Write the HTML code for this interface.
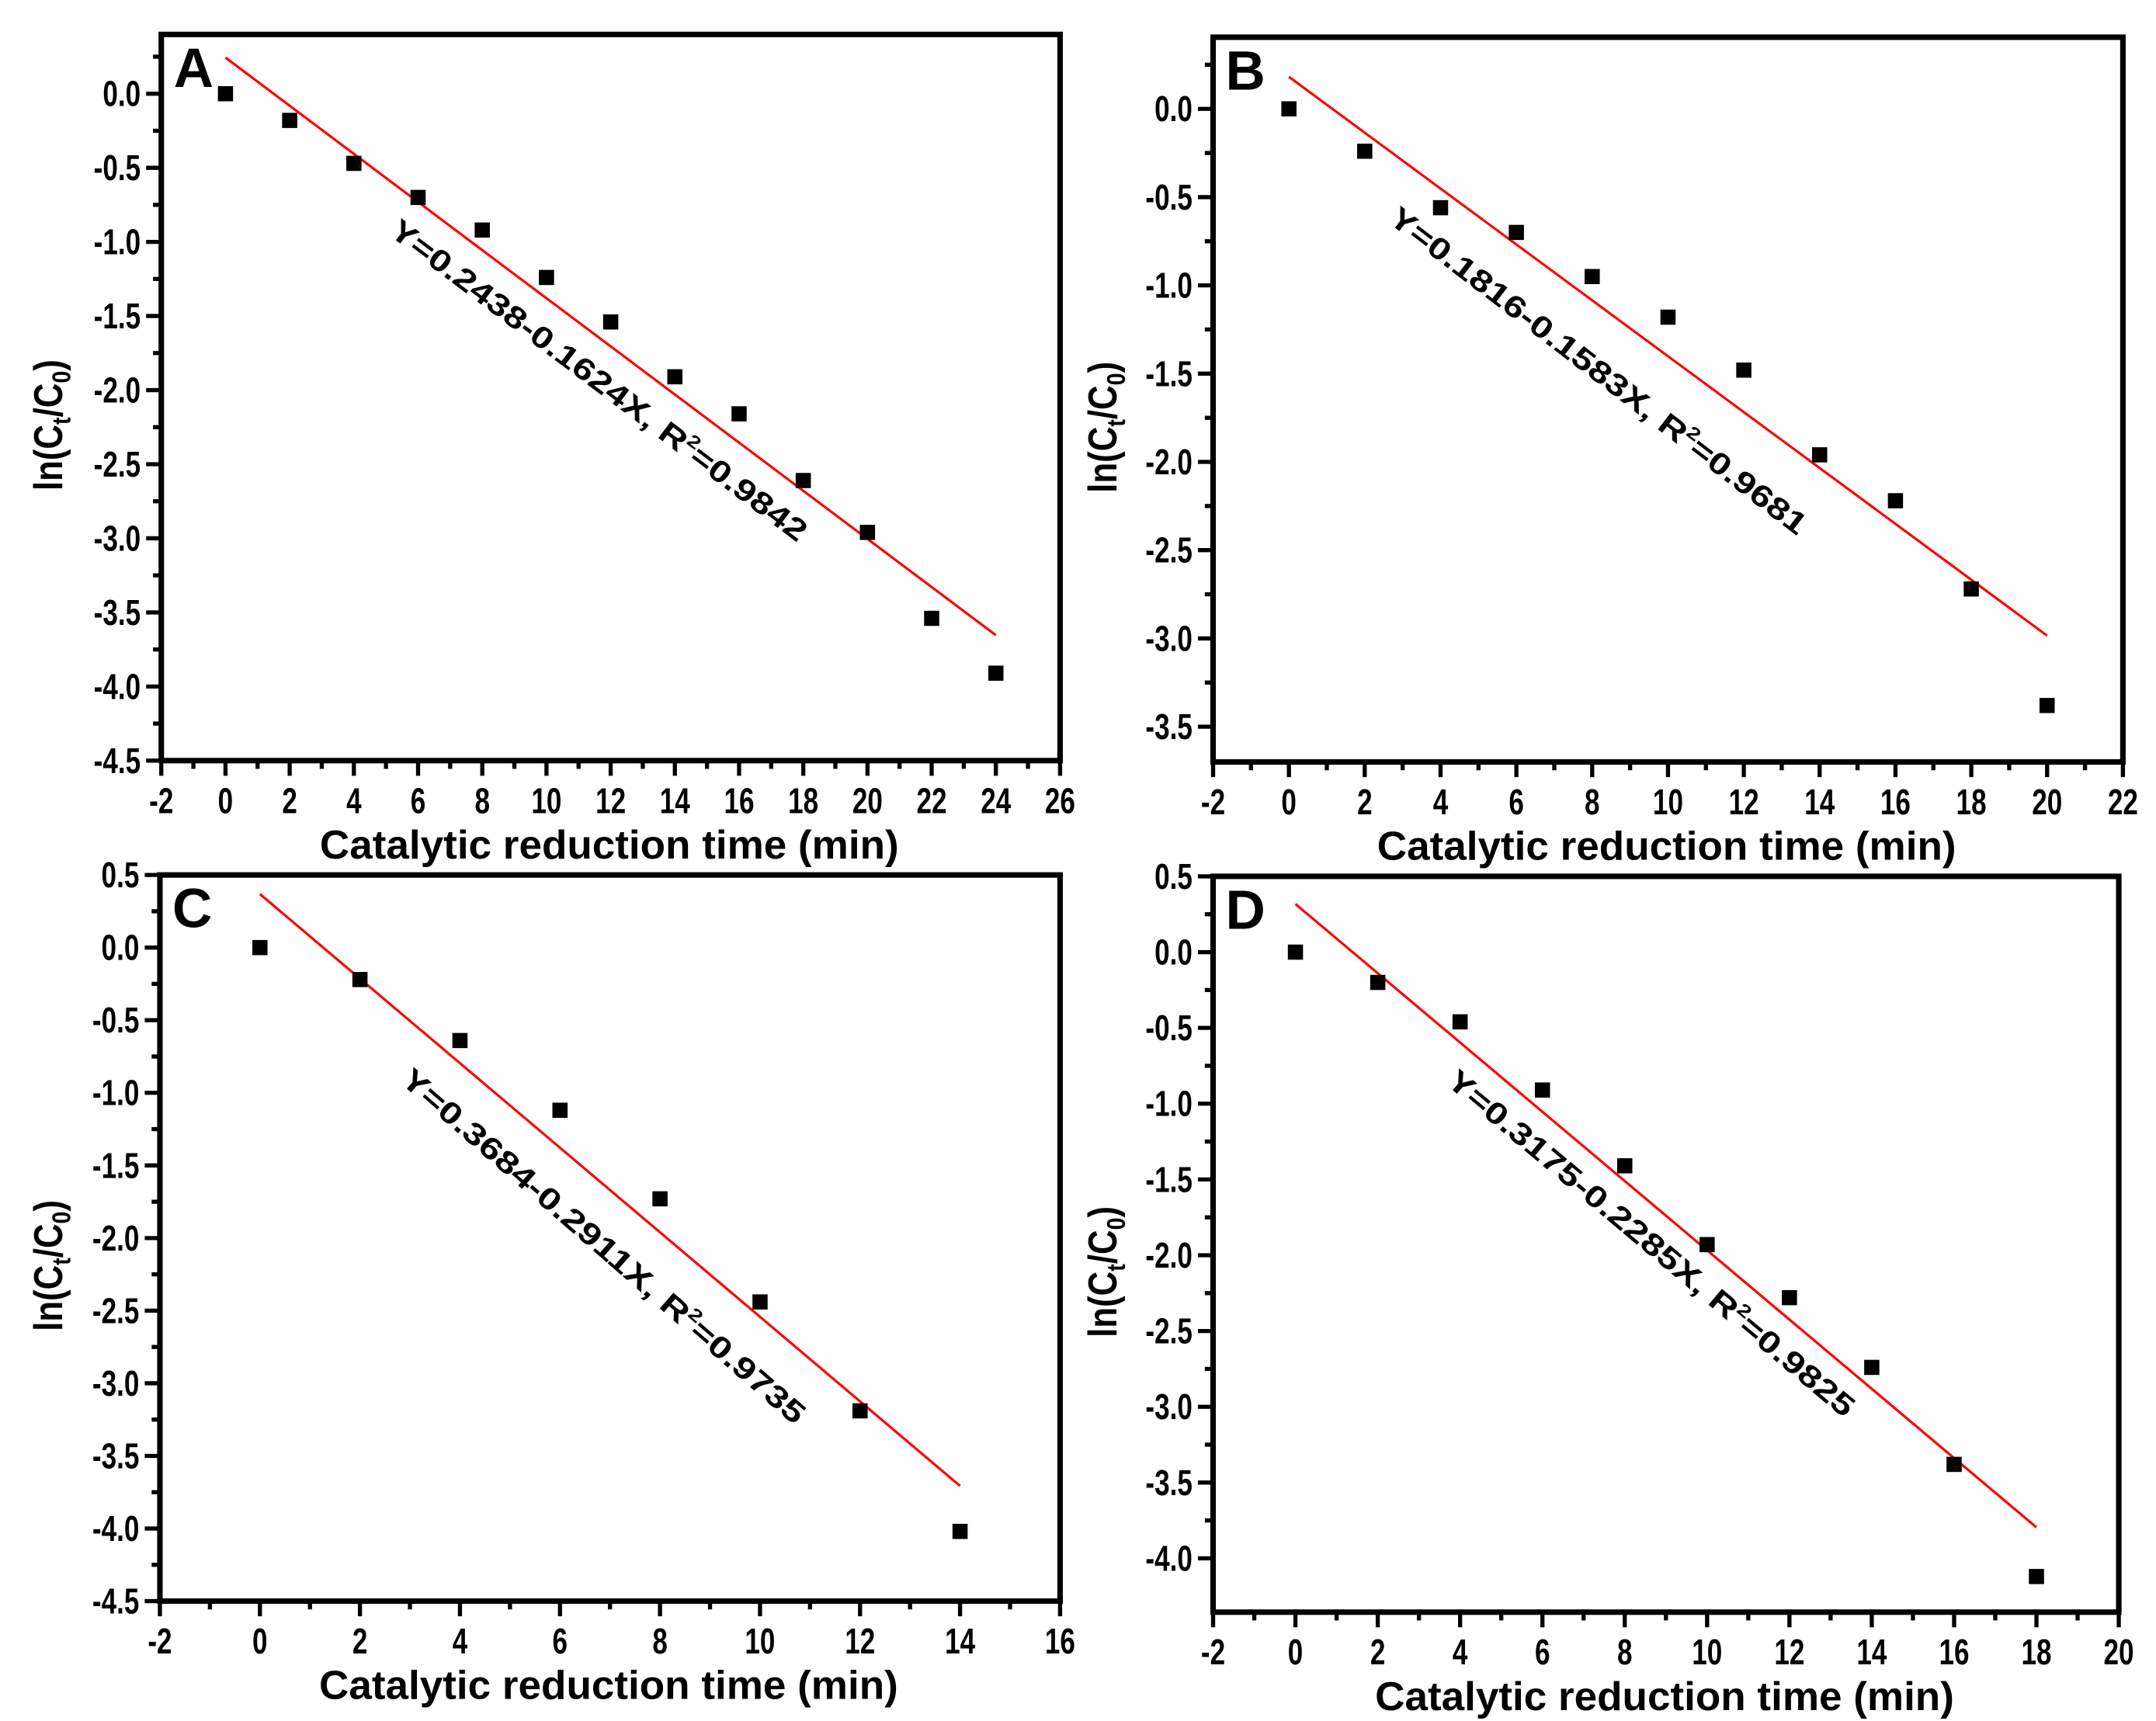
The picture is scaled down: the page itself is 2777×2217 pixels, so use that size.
<!DOCTYPE html>
<html><head><meta charset="utf-8"><style>
html,body{margin:0;padding:0;background:#fff}
svg{display:block}
text{font-family:"Liberation Sans",sans-serif;font-weight:bold;fill:#000}
</style></head><body>
<svg id="fig" width="2777" height="2217" viewBox="0 0 1564 1249" preserveAspectRatio="none" xmlns="http://www.w3.org/2000/svg"></svg>
<script>
const xA=[0,2,4,6,8,10,12,14,16,18,20,22,24];
const yA=[0,-0.18,-0.47,-0.70,-0.92,-1.24,-1.54,-1.91,-2.16,-2.61,-2.96,-3.54,-3.91];
const xB=[0,2,4,6,8,10,12,14,16,18,20];
const yB=[0,-0.24,-0.56,-0.70,-0.95,-1.18,-1.48,-1.96,-2.22,-2.72,-3.38];
const xC=[0,2,4,6,8,10,12,14];
const yC=[0,-0.22,-0.64,-1.12,-1.73,-2.44,-3.19,-4.02];
const xD=[0,2,4,6,8,10,12,14,16,18];
const yD=[0,-0.20,-0.46,-0.91,-1.41,-1.93,-2.28,-2.74,-3.38,-4.12];
const fitA=[0.2438,-0.1624], fitB=[0.1816,-0.1583], fitC=[0.3684,-0.2911], fitD=[0.3175,-0.2285];
const eqA="Y=0.2438-0.1624X, R", r2A="=0.9842";
const eqB="Y=0.1816-0.1583X, R", r2B="=0.9681";
const eqC="Y=0.3684-0.2911X, R", r2C="=0.9735";
const eqD="Y=0.3175-0.2285X, R", r2D="=0.9825";

const NS="http://www.w3.org/2000/svg";
const svg=document.getElementById('fig');
function mk(tag,attrs,parent){const e=document.createElementNS(NS,tag);for(const k in attrs)e.setAttribute(k,attrs[k]);(parent||svg).appendChild(e);return e;}

const panels=[
 {id:'a',letter:'A',L:117,R:769,T:25,B:552,x0:-2,x1:26,xs:2,y0:-4.5,y1:0.40,yt0:-4.5,yt1:0,xs_:xA,ys:yA,fit:fitA,eq:eqA,r2:r2A,ex:430,ey:282,ang:37,elen:372,ytx:35},
 {id:'b',letter:'B',L:880,R:1540,T:27,B:553,x0:-2,x1:22,xs:2,y0:-3.70,y1:0.406,yt0:-3.5,yt1:0,xs_:xB,ys:yB,fit:fitB,eq:eqB,r2:r2B,ex:1155,ey:275,ang:37.5,elen:375,ytx:800},
 {id:'c',letter:'C',L:116,R:769,T:635,B:1162,x0:-2,x1:16,xs:2,y0:-4.5,y1:0.5,yt0:-4.5,yt1:0.5,xs_:xC,ys:yC,fit:fitC,eq:eqC,r2:r2C,ex:433,ey:910,ang:41,elen:380,ytx:35},
 {id:'d',letter:'D',L:880,R:1537,T:636,B:1170,x0:-2,x1:20,xs:2,y0:-4.355,y1:0.5,yt0:-4.0,yt1:0.5,xs_:xD,ys:yD,fit:fitD,eq:eqD,r2:r2D,ex:1193,ey:908,ang:40,elen:378,ytx:800}
];

panels.forEach(p=>{
  const g=mk('g',{});
  
  
  const X=v=>p.L+(v-p.x0)/(p.x1-p.x0)*(p.R-p.L);
  const Y=v=>p.B-(v-p.y0)/(p.y1-p.y0)*(p.B-p.T);
  for(let v=p.x0;v<=p.x1+1e-9;v+=p.xs){
    const t=mk('line',{x1:X(v),x2:X(v),y1:p.B,y2:p.B+11,stroke:'#000','stroke-width':3},g);
    
    
    if(v+p.xs/2<=p.x1+1e-9){
      const m=mk('line',{x1:X(v+p.xs/2),x2:X(v+p.xs/2),y1:p.B,y2:p.B+6,stroke:'#000','stroke-width':3},g);
      
      
    }
    const l=mk('text',{x:0,y:0,'text-anchor':'middle','font-size':26,transform:`translate(${X(v)},${p.B+38}) scale(0.76,1)`},g);
    l.textContent=String(v);
    
    
  }
  for(let v=p.yt0;v<=p.yt1+1e-9;v+=0.5){
    const t=mk('line',{x1:p.L-11,x2:p.L,y1:Y(v),y2:Y(v),stroke:'#000','stroke-width':3},g);
    
    
    const mv=v+0.25;
    if(mv<=p.y1){
      const m=mk('line',{x1:p.L-6,x2:p.L,y1:Y(mv),y2:Y(mv),stroke:'#000','stroke-width':3},g);
      
      
    }
    const l=mk('text',{x:0,y:0,'text-anchor':'end','font-size':26,transform:`translate(${p.L-15},${Y(v)+9}) scale(0.76,1)`},g);
    l.textContent=v.toFixed(1);
    
    
  }
  const f=mk('rect',{x:p.L,y:p.T,width:p.R-p.L,height:p.B-p.T,fill:'none',stroke:'#000','stroke-width':4},g);
  
  
  const lx0=p.xs_[0], lx1=p.xs_[p.xs_.length-1];
  const fl=mk('line',{x1:X(lx0),y1:Y(p.fit[0]+p.fit[1]*lx0),x2:X(lx1),y2:Y(p.fit[0]+p.fit[1]*lx1),stroke:'#f00','stroke-width':1.8},g);
  
  
  p.xs_.forEach((xv,i)=>{
    const s=mk('rect',{x:X(xv)-5.5,y:Y(p.ys[i])-5.5,width:11,height:11,fill:'#000'},g);
    
    
  });
  const lt=mk('text',{x:p.L+9,y:p.T+38,'font-size':40},g);
  lt.textContent=p.letter;
  
  
  const eq=mk('text',{x:0,y:0,'text-anchor':'middle','font-size':22,transform:`translate(${p.ex},${p.ey}) rotate(${p.ang})`,style:'font-weight:600'},g);
  
  
  eq.setAttribute('textLength',p.elen);
  eq.setAttribute('lengthAdjust','spacingAndGlyphs');
  const t1=mk('tspan',{},eq); t1.textContent=p.eq;
  const t2=mk('tspan',{dy:-9,'font-size':13},eq); t2.textContent='2';
  const t3=mk('tspan',{dy:9},eq); t3.textContent=p.r2;
  const xt=mk('text',{x:(p.L+p.R)/2-1,y:p.B+71,'text-anchor':'middle','font-size':29,textLength:420,lengthAdjust:'spacingAndGlyphs'},g);
  xt.textContent='Catalytic reduction time (min)';
  
  
  const yc=(p.T+p.B)/2+20;
  const yt=mk('text',{x:0,y:0,'text-anchor':'middle','font-size':29,transform:`translate(${p.ytx+10},${yc}) rotate(-90) scale(0.85,1)`},g);
  
  
  const a=mk('tspan',{},yt); a.textContent='ln(C';
  const b=mk('tspan',{dy:6,'font-size':19},yt); b.textContent='t';
  const c=mk('tspan',{dy:-6},yt); c.textContent='/C';
  const d=mk('tspan',{dy:6,'font-size':19},yt); d.textContent='0';
  const e=mk('tspan',{dy:-6},yt); e.textContent=')';
});
</script>
</body></html>
